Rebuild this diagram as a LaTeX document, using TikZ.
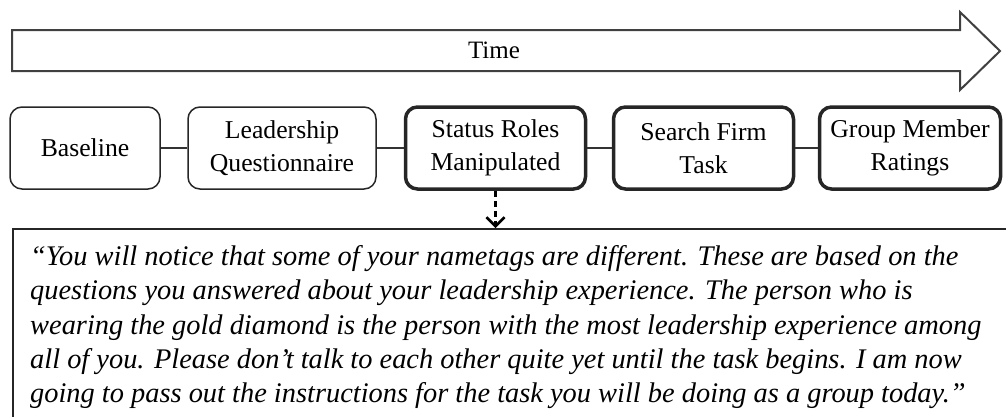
\documentclass[tikz,border=0pt]{standalone}
\usepackage{fontspec}
\setmainfont{Liberation Serif}
\usetikzlibrary{arrows.meta}
\begin{document}
\begin{tikzpicture}[x=1pt,y=-1pt,
  thinbox/.style={draw=black!85, line width=1.5pt, rounded corners=12pt, minimum height=82pt, font=\fontsize{25.7}{33}\selectfont, align=center, inner sep=0pt},
  thickbox/.style={thinbox, line width=3.5pt},
  link/.style={draw=black!80, line width=1.5pt},
]
\useasboundingbox (0,0) rectangle (1006,416);
% time arrow
\draw[draw=black!75, line width=2pt, fill=white]
  (12,30) -- (960,30) -- (960,12) -- (1000,51) -- (960,90) -- (960,71) -- (12,71) -- cycle;
\node[font=\fontsize{25}{28}\selectfont] (time) at (494,50) {Time};
% boxes
\node[thinbox, minimum width=150pt] (base) at (85,148) {Baseline};
\node[thinbox, minimum width=188pt] (lq) at (282,148) {Leadership\\Questionnaire};
\node[thickbox, minimum width=180pt] (sr) at (495.5,148) {Status Roles\\Manipulated};
\node[thickbox, minimum width=180pt] (sf) at (703.5,148) {Search Firm\\Task};
\node[thickbox, minimum width=181pt] (gm) at (910,148) {Group Member\\Ratings};
\draw[link] (base) -- (lq);
\draw[link] (lq) -- (sr);
\draw[link] (sr) -- (sf);
\draw[link] (sf) -- (gm);
% quote box
\node[draw=black!85, line width=2pt, anchor=north west, minimum width=1020pt, minimum height=220pt, inner sep=0pt] (quote) at (12,228) {};
\draw[line width=2.5pt, dash pattern=on 6pt off 4pt, -{Straight Barb[length=9pt,width=18pt,line width=2.5pt]}] (sr.south) -- (sr.south |- quote.north);
\node[anchor=north west, align=left, inner sep=0pt, font=\fontsize{28.4}{34.4}\selectfont\itshape] (qtext) at (30,245)
{“You will notice that some of your nametags are different. These are based on the\\
questions you answered about your leadership experience. The person who is\\
wearing the gold diamond is the person with the most leadership experience among\\
all of you. Please don’t talk to each other quite yet until the task begins. I am now\\
going to pass out the instructions for the task you will be doing as a group today.”};
\end{tikzpicture}
\end{document}
